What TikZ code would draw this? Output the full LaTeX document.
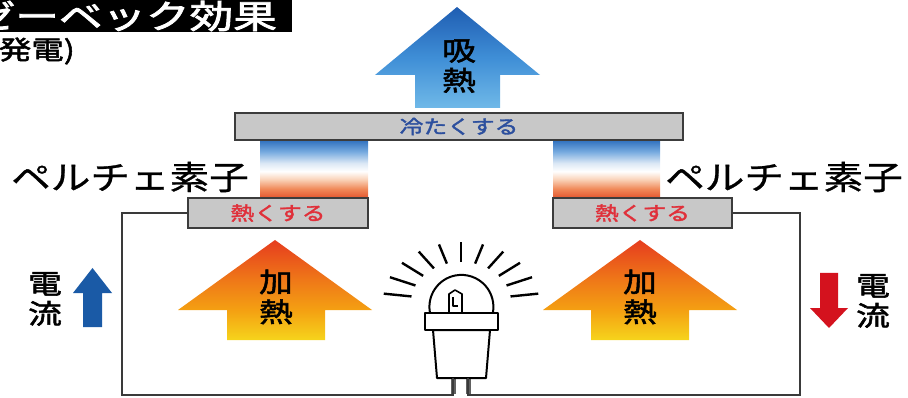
\documentclass[tikz,border=0pt]{standalone}
\usepackage{fontspec}
\newfontfamily\jpTitle[FakeStretch=1.32,FakeBold=2.5]{Noto Sans CJK JP}
\newfontfamily\jpBold[FakeStretch=1.25,FakeBold=2]{Noto Sans CJK JP}
\newfontfamily\jpMid[FakeStretch=1.2,FakeBold=0.8]{Noto Sans CJK JP}

% colours
\definecolor{platefill}{HTML}{C8C8C8}
\definecolor{plateline}{HTML}{3C3C3C}
\definecolor{wirecol}{HTML}{3A3A3A}
\definecolor{coolblue}{HTML}{2C4F9E}
\definecolor{hotred}{HTML}{E0303A}
\definecolor{curblue}{HTML}{1A5AA6}
\definecolor{curred}{HTML}{D4121E}
\definecolor{pelBot}{HTML}{E2552E}
\definecolor{pelOr}{HTML}{F08A5A}
\definecolor{pelPeach}{HTML}{FAD2B8}
\definecolor{pelSky}{HTML}{DCE8F5}
\definecolor{pelMid}{HTML}{76AADF}
\definecolor{pelTop}{HTML}{2F70BE}
\definecolor{heatY}{HTML}{F6D41C}
\definecolor{heatO}{HTML}{F4A012}
\definecolor{heatD}{HTML}{EF7818}
\definecolor{heatR}{HTML}{E63C1E}
\definecolor{coolLo}{HTML}{70B9E8}
\definecolor{coolMi}{HTML}{3F8ED6}
\definecolor{coolHi}{HTML}{1F5DB2}

% thermoelectric element: cold (blue) on top, hot (orange) below
\pgfdeclareverticalshading{peltier}{100bp}{color(0bp)=(pelBot); color(25bp)=(pelBot);
  color(33bp)=(pelOr); color(41bp)=(pelPeach); color(48bp)=(white); color(55bp)=(pelSky);
  color(65bp)=(pelMid); color(75bp)=(pelTop); color(100bp)=(pelTop)}
% heating arrow: yellow shaft, red tip
\pgfdeclareverticalshading{heatarrow}{100bp}{color(0bp)=(heatY); color(25bp)=(heatY);
  color(40bp)=(heatO); color(55bp)=(heatD); color(75bp)=(heatR); color(100bp)=(heatR)}
% heat absorption arrow: light blue to deep blue
\pgfdeclareverticalshading{coolarrow}{100bp}{color(0bp)=(coolLo); color(25bp)=(coolLo);
  color(50bp)=(coolMi); color(75bp)=(coolHi); color(100bp)=(coolHi)}

\begin{document}
\begin{tikzpicture}[x=1pt,y=-1pt,
  plate/.style={draw=plateline, line width=2pt, fill=platefill, inner sep=0pt},
  platetext/.style={font=\jpBold\fontsize{19}{19}\selectfont},
  vlabel/.style={align=center, inner sep=0pt, font=\jpBold\fontsize{27}{30}\selectfont},
  pellabel/.style={inner sep=0pt, font=\jpMid\fontsize{33}{33}\selectfont},
  wire/.style={draw=wirecol, line width=2pt},
  leg/.style={draw=wirecol!80, line width=5pt},
  bulbline/.style={draw=black, line width=2pt, line join=round},
  ray/.style={draw=black, line width=2.4pt}]
\useasboundingbox (0,0) rectangle (908,398);

% heading
\node[fill=black, text=white, anchor=east, inner xsep=15pt, inner ysep=0pt,
      minimum height=32pt, font=\jpTitle\fontsize{33}{33}\selectfont]
  (title) at (292,16) {ゼーベック効果};
\node[anchor=east, inner sep=0pt, font=\jpBold\fontsize{26}{26}\selectfont]
  (subtitle) at (75,51) {(発電)};

% heat absorbed at the cold side
\shade[shading=coolarrow] (457,7) -- (540,75) -- (500,75) -- (500,108)
  -- (415,108) -- (415,75) -- (375,75) -- cycle;
\node[vlabel] (absorb) at (459,66) {吸\\熱};

% Peltier elements
\shade[shading=peltier] (260,140) rectangle (368,198);
\shade[shading=peltier] (553,140) rectangle (660,198);

% plates
\node[plate, minimum width=448pt, minimum height=27pt, platetext, text=coolblue]
  (cold) at (459,126.5) {冷たくする};
\node[plate, minimum width=180pt, minimum height=30pt, platetext, text=hotred]
  (hotL) at (278,213) {熱くする};
\node[plate, minimum width=179pt, minimum height=30pt, platetext, text=hotred]
  (hotR) at (642.5,213) {熱くする};

\node[pellabel] (pelL) at (130,177) {ペルチェ素子};
\node[pellabel] (pelR) at (784,177) {ペルチェ素子};

% heating arrows
\shade[shading=heatarrow] (275,240) -- (372,310) -- (325,310) -- (325,340)
  -- (227,340) -- (227,310) -- (178,310) -- cycle;
\shade[shading=heatarrow] (640,240) -- (737,310) -- (689,310) -- (689,340)
  -- (591,340) -- (591,310) -- (543,310) -- cycle;
\node[vlabel] (heatL) at (276,297) {加\\熱};
\node[vlabel] (heatR) at (640,297) {加\\熱};

% current direction
\fill[curblue] (92.5,268) -- (112,293) -- (102,293) -- (102,327) -- (83,327)
  -- (83,293) -- (73,293) -- cycle;
\fill[curred] (820,273) -- (838,273) -- (838,308) -- (848,308) -- (829,328)
  -- (810,308) -- (820,308) -- cycle;
\node[vlabel] (curL) at (45,299) {電\\流};
\node[vlabel] (curR) at (873,301) {電\\流};

% lamp
\coordinate (legL) at (453,378);
\coordinate (legR) at (468,378);
\draw[leg] (legL) -- ++(0,16);
\draw[leg] (legR) -- ++(0,16);
\draw[bulbline, fill=white] (433,330) -- (437,378) -- (486,378) -- (490,330) -- cycle;
\draw[bulbline, fill=white] (430,313) arc[start angle=169, end angle=371, radius=32];
\draw[bulbline, fill=white] (425,313) rectangle (498,330);
\draw[bulbline, line width=1.6pt] (449,313) -- (449,294) -- (455,290) -- (462,294) -- (462,313);
\draw[bulbline, line width=1.2pt] (453,297) -- (453,306) -- (458,306);
\foreach \a in {8,24.4,...,172.1}
  \draw[ray] ({461+50*cos(\a)},{302-40*sin(\a)}) -- ({461+78*cos(\a)},{302-60*sin(\a)});

% circuit
\draw[wire] (hotL.west) -| (122,395) -| (legL);
\draw[wire] (hotR.east) -| (800,395) -| (legR);
\end{tikzpicture}
\end{document}
